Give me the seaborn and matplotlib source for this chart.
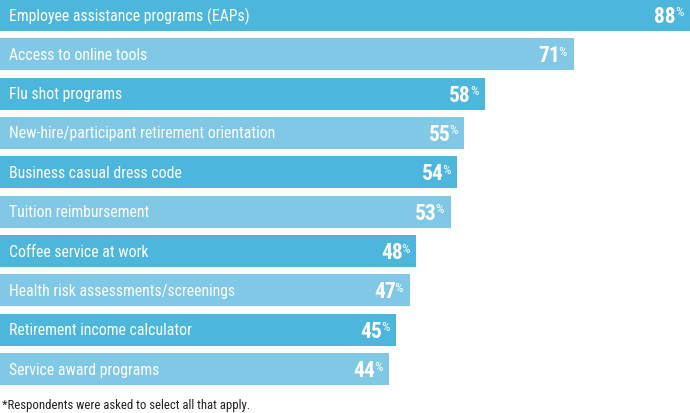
import matplotlib
matplotlib.use("Agg")
import matplotlib.pyplot as plt
import matplotlib.transforms as mtransforms
import seaborn as sns
import pandas as pd

categories = [
    "Employee assistance programs (EAPs)",
    "Access to online tools",
    "Flu shot programs",
    "New-hire/participant retirement orientation",
    "Business casual dress code",
    "Tuition reimbursement",
    "Coffee service at work",
    "Health risk assessments/screenings",
    "Retirement income calculator",
    "Service award programs",
]
percent = [88, 71, 58, 55, 54, 53, 48, 47, 45, 44]

df = pd.DataFrame({"benefit": categories, "pct": percent})

dark = "#4db6dc"
light = "#80c8e5"
colors = [dark if i % 2 == 0 else light for i in range(len(categories))]

sns.set_theme(style="white")
plt.rcParams["font.family"] = ["Roboto Condensed", "Liberation Sans Narrow", "Roboto", "DejaVu Sans"]

fig = plt.figure(figsize=(6.9, 4.14), dpi=100)
ax = fig.add_axes([0, 28 / 414, 1, 386 / 414])

sns.barplot(data=df, x="pct", y="benefit", hue="benefit", palette=colors,
            legend=False, width=0.81, ax=ax, orient="h", saturation=1,
            linewidth=0)

# bars begin left of zero so the scale matches the original layout
base = -12.87
for p in ax.patches:
    w = p.get_width()
    p.set_x(base)
    p.set_width(w - base)

ax.set_xlim(base, 88)
ax.set_ylim(len(categories) - 1 + 0.405, -0.405)
ax.axis("off")

trans = mtransforms.blended_transform_factory(ax.transAxes, ax.transData)
for i, (name, v) in enumerate(zip(categories, percent)):
    ax.text(9 / 690, i, name, transform=trans, ha="left", va="center",
            color="white", fontsize=11.3)
    ax.annotate(str(v), xy=(v, i), xytext=(-14, -1), textcoords="offset pixels",
                ha="right", va="center", color="white", fontsize=15.5,
                fontweight="bold")
    ax.annotate("%", xy=(v, i), xytext=(-15, 3), textcoords="offset pixels",
                ha="left", va="center", color="white", fontsize=9.5)

fig.text(2 / 690, 1 - 406 / 414, "*Respondents were asked to select all that apply.",
         ha="left", va="center", fontsize=9.2, color="#222222")

fig.savefig("out.png", dpi=100)
